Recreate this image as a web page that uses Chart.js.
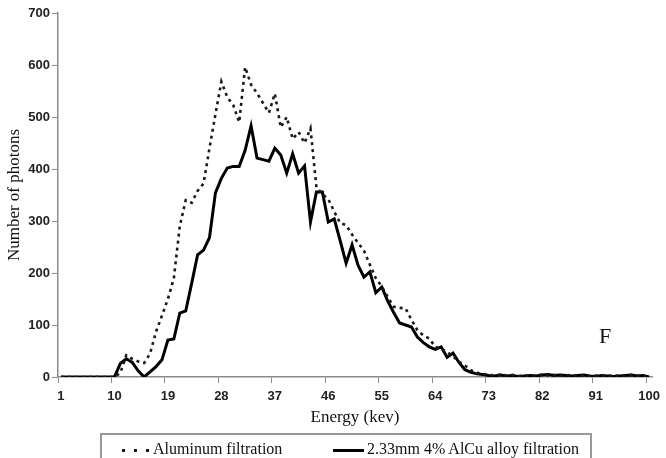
<!DOCTYPE html>
<html>
<head>
<meta charset="utf-8">
<script src="https://cdn.jsdelivr.net/npm/chart.js@4.4.1/dist/chart.umd.min.js"></script>
<style>
  html, body { margin: 0; padding: 0; background: #fff; overflow: hidden; }
  #wrap { position: relative; width: 666px; height: 458px; overflow: hidden; }
  #legend { position: absolute; left: 100px; top: 433px; width: 492px; height: 44px;
            border: 2px solid #999; box-sizing: border-box;
            font-family: "Liberation Serif", "DejaVu Serif", serif; font-size: 16px; color: #111; }
  .lg-item { position: absolute; top: 0; height: 30px; }
  .lg-sample { position: absolute; top: 14px; height: 3px; }
  .lg-text { position: absolute; top: 5px; line-height: 18px; white-space: nowrap; }
</style>
</head>
<body>
<div id="wrap">
  <canvas id="c" width="666" height="458"></canvas>
  <div id="legend"></div>
</div>
<script>
// ---- data ----
const energyKev = [1,2,3,4,5,6,7,8,9,10,11,12,13,14,15,16,17,18,19,20,
  21,22,23,24,25,26,27,28,29,30,31,32,33,34,35,36,37,38,39,40,
  41,42,43,44,45,46,47,48,49,50,51,52,53,54,55,56,57,58,59,60,
  61,62,63,64,65,66,67,68,69,70,71,72,73,74,75,76,77,78,79,80,
  81,82,83,84,85,86,87,88,89,90,91,92,93,94,95,96,97,98,99,100];

const aluminumFiltration = [0,0,0,0,0,0,0,0,0,0,
  8,42,35,30,27,45,87,118,150,190,
  290,340,335,358,372,440,505,568,538,523,
  490,596,562,546,527,508,545,480,500,458,
  471,450,478,365,352,342,318,296,292,274,
  258,243,216,190,174,154,135,133,132,110,
  90,80,74,58,54,48,40,29,22,13,
  8,6,4,3,5,3,4,2,3,2,
  3,5,3,4,2,3,4,2,3,2,
  3,2,3,2,3,2,4,3,2,1];

const alcuFiltration = [0,0,0,0,0,0,0,0,0,0,
  26,35,28,12,0,10,20,33,71,73,
  123,127,180,235,244,268,354,382,402,405,
  405,436,483,421,418,415,440,427,392,429,
  392,406,298,356,356,298,304,262,219,254,
  215,192,202,162,173,146,124,104,100,96,
  77,66,58,53,58,38,46,28,14,9,
  6,5,3,2,4,2,3,1,2,3,
  2,4,5,3,4,3,2,3,4,2,
  1,3,2,1,2,3,4,2,3,0];

const seriesNames = ['Aluminum filtration', '2.33mm 4% AlCu alloy filtration'];
const xTickLabels = [1,10,19,28,37,46,55,64,73,82,91,100];
const yTicks = [0,100,200,300,400,500,600,700];
const panelLabel = 'F';
const xTitle = 'Energy (kev)';
const yTitle = 'Number of photons';

// ---- chart ----
const tickFont = { family: '"Liberation Sans", Arial, sans-serif', size: 13, weight: 'bold' };
const titleFont = { family: '"Liberation Serif", "Times New Roman", serif', size: 17 };
const axisGray = '#8c8c8c';

const panelLabelPlugin = {
  id: 'panelLabel',
  afterDraw(chart) {
    const ctx = chart.ctx;
    ctx.save();
    ctx.font = '22px "Liberation Serif", serif';
    ctx.fillStyle = '#111';
    ctx.textAlign = 'center';
    ctx.textBaseline = 'middle';
    ctx.fillText(panelLabel, chart.chartArea.right - 47, chart.chartArea.bottom - 40);
    ctx.restore();
  }
};

new Chart(document.getElementById('c'), {
  type: 'line',
  data: {
    labels: energyKev,
    datasets: [
      {
        label: seriesNames[0],
        data: aluminumFiltration,
        borderColor: '#1a1a1a',
        borderWidth: 2.6,
        borderDash: [3, 4],
        pointRadius: 0,
        tension: 0,
        fill: false
      },
      {
        label: seriesNames[1],
        data: alcuFiltration,
        borderColor: '#000',
        borderWidth: 3,
        pointRadius: 0,
        tension: 0,
        fill: false
      }
    ]
  },
  options: {
    responsive: false,
    animation: false,
    devicePixelRatio: 1,
    layout: { padding: { left: 0, right: 11, top: 13, bottom: 26 } },
    plugins: {
      legend: { display: false },
      tooltip: { enabled: false }
    },
    scales: {
      x: {
        type: 'category',
        offset: true,
        grid: {
          offset: true,
          drawOnChartArea: false,
          drawTicks: true,
          tickLength: 6,
          color: (c) => (c.index < energyKev.length && xTickLabels.includes(energyKev[c.index])) ? axisGray : 'rgba(0,0,0,0)'
        },
        border: { display: true, color: axisGray, width: 1.5 },
        ticks: {
          autoSkip: false,
          maxRotation: 0,
          minRotation: 0,
          padding: 6,
          color: '#222',
          font: tickFont,
          callback: (v, i) => xTickLabels.includes(energyKev[i]) ? String(energyKev[i]) : ''
        },
        title: { display: true, text: xTitle, color: '#111', font: titleFont, padding: { top: 4, bottom: 4 } },
        afterFit: (s) => { s.height = 55; }
      },
      y: {
        min: 0,
        max: 700,
        grid: { drawOnChartArea: false, drawTicks: true, tickLength: 6, color: axisGray },
        border: { display: true, color: axisGray, width: 1.5 },
        ticks: { padding: 2, color: '#222', font: tickFont },
        afterBuildTicks: (s) => { s.ticks = yTicks.map(v => ({ value: v })); },
        title: { display: true, text: yTitle, color: '#111', font: titleFont, padding: { top: 4, bottom: 4 } },
        afterFit: (s) => { s.width = 58; }
      }
    }
  },
  plugins: [panelLabelPlugin]
});

// ---- legend (HTML) ----
const legend = document.getElementById('legend');
const legendLayout = [
  { sampleLeft: 20, sampleWidth: 29, textLeft: 51, dotted: true },
  { sampleLeft: 231, sampleWidth: 31, textLeft: 265, dotted: false }
];
seriesNames.forEach((name, i) => {
  const L = legendLayout[i];
  const s = document.createElement('span');
  s.className = 'lg-sample';
  s.style.left = L.sampleLeft + 'px';
  s.style.width = L.sampleWidth + 'px';
  s.style.background = L.dotted
    ? 'repeating-linear-gradient(to right, #1a1a1a 0 3px, rgba(0,0,0,0) 3px 12px)'
    : '#000';
  legend.appendChild(s);
  const t = document.createElement('span');
  t.className = 'lg-text';
  t.style.left = L.textLeft + 'px';
  t.textContent = name;
  legend.appendChild(t);
});
</script>
</body>
</html>
